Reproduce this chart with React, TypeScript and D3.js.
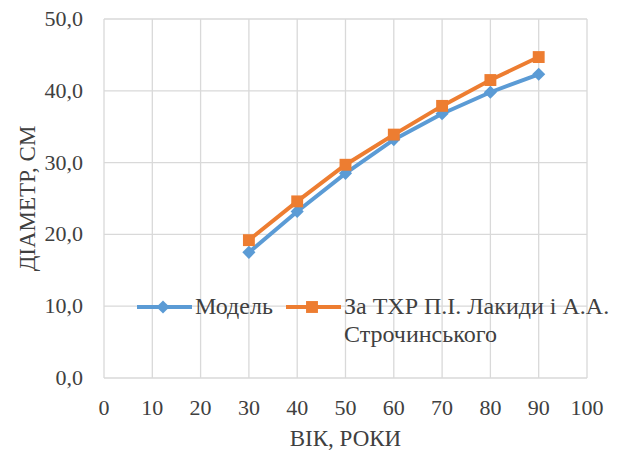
import * as d3 from "d3";

const ages = [30, 40, 50, 60, 70, 80, 90];
const modelValues = [17.5, 23.2, 28.5, 33.2, 36.8, 39.8, 42.3];
const lakydaValues = [19.2, 24.6, 29.7, 33.9, 37.9, 41.5, 44.7];
const xTicks = [0, 10, 20, 30, 40, 50, 60, 70, 80, 90, 100];
const yTicks = [0, 10, 20, 30, 40, 50];
const seriesNames = ["Модель", "За ТХР П.І. Лакиди і А.А.", "Строчинського"];

const width = 622;
const height = 454;
const marginTop = 19;
const marginRight = 35;
const marginBottom = 76;
const marginLeft = 104;

const font = "Liberation Serif";
const blue = "#5b9bd5";
const orange = "#ed7d31";
const grid = "#d9d9d9";
const textColor = "#404040";

export default function App() {
  const x = d3.scaleLinear().domain([0, 100]).range([marginLeft, width - marginRight]);
  const y = d3.scaleLinear().domain([0, 50]).range([height - marginBottom, marginTop]);

  const line = d3.line<number>().x((d, i) => x(ages[i])).y(d => y(d));
  const diamond = d3.symbol().type(d3.symbolDiamond2).size(110)() as string;
  const square = d3.symbol().type(d3.symbolSquare2).size(180)() as string;
  const fmt = (d: number) => d3.format(".1f")(d).replace(".", ",");

  const ly = 307;
  const ts = (size: number) => ({ fontFamily: font, fontSize: size });

  return (
    <svg width={width} height={height}
      style={{ position: "absolute", left: 0, top: 0 }}>
      <rect width={width} height={height} fill="white" />
      {/* grid */}
      <g stroke={grid} strokeWidth={1.3}>
        {xTicks.map(d => <line key={"gx" + d} x1={x(d)} x2={x(d)} y1={y(0)} y2={y(50)} />)}
        {yTicks.map(d => <line key={"gy" + d} x1={x(0)} x2={x(100)} y1={y(d)} y2={y(d)} />)}
      </g>

      {/* tick labels */}
      {yTicks.map(d => (
        <text key={"ty" + d} x={x(0) - 21} y={y(d) + 7} textAnchor="end" fill={textColor} style={ts(22)}>
          {fmt(d)}
        </text>
      ))}
      {xTicks.map(d => (
        <text key={"tx" + d} x={x(d)} y={y(0) + 37} textAnchor="middle" fill={textColor} style={ts(22)}>
          {d}
        </text>
      ))}

      {/* axis titles */}
      <text x={(x(0) + x(100)) / 2} y={446} textAnchor="middle" fill={textColor} style={ts(23)}>
        ВІК, РОКИ
      </text>
      <text transform={`translate(35,${(y(0) + y(50)) / 2}) rotate(-90)`} textAnchor="middle"
        fill={textColor} style={ts(23)}>
        ДІАМЕТР, СМ
      </text>

      {/* series */}
      <path d={line(modelValues) ?? ""} fill="none" stroke={blue} strokeWidth={4} />
      {modelValues.map((d, i) => (
        <path key={"m" + i} d={diamond} transform={`translate(${x(ages[i])},${y(d)})`} fill={blue} />
      ))}
      <path d={line(lakydaValues) ?? ""} fill="none" stroke={orange} strokeWidth={4} />
      {lakydaValues.map((d, i) => (
        <path key={"l" + i} d={square} transform={`translate(${x(ages[i])},${y(d)})`} fill={orange} />
      ))}

      {/* legend */}
      <line x1={137} x2={192} y1={ly} y2={ly} stroke={blue} strokeWidth={4} />
      <path d={diamond} transform={`translate(163,${ly})`} fill={blue} />
      <text x={195} y={ly + 7} fill={textColor} style={ts(24)}>{seriesNames[0]}</text>
      <line x1={286} x2={341} y1={ly} y2={ly} stroke={orange} strokeWidth={4} />
      <path d={square} transform={`translate(312,${ly})`} fill={orange} />
      <text x={344} y={ly + 7} fill={textColor} style={ts(24)}>{seriesNames[1]}</text>
      <text x={344} y={ly + 35} fill={textColor} style={ts(24)}>{seriesNames[2]}</text>
    </svg>
  );
}
